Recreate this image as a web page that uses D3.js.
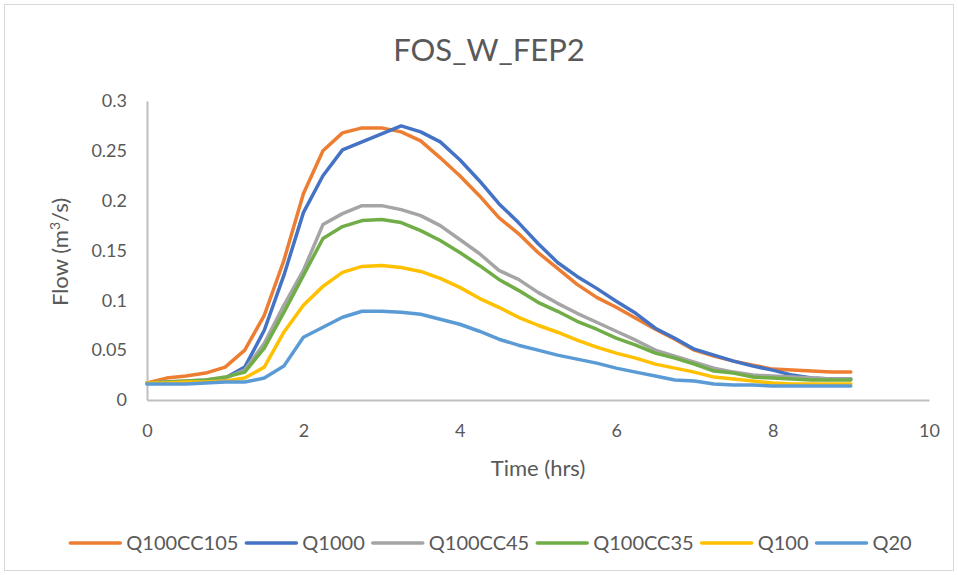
<!DOCTYPE html>
<html>
<head>
<meta charset="utf-8">
<script src="https://cdn.jsdelivr.net/npm/d3@7"></script>
<style>
  body { margin: 0; background: #fff; }
  svg text { font-family: Lato, "Open Sans", sans-serif; fill: #595959; }
</style>
</head>
<body>
<svg id="chart" width="958" height="575"></svg>
<script>
const title = "FOS_W_FEP2";
const xTickValues = [0, 2, 4, 6, 8, 10];
const yTickValues = [0, 0.05, 0.1, 0.15, 0.2, 0.25, 0.3];
const timeHrs = [0,0.25,0.5,0.75,1,1.25,1.5,1.75,2,2.25,2.5,2.75,3,3.25,3.5,3.75,4,4.25,4.5,4.75,5,5.25,5.5,5.75,6,6.25,6.5,6.75,7,7.25,7.5,7.75,8,8.25,8.5,8.75,9];
const seriesNames = ["Q100CC105","Q1000","Q100CC45","Q100CC35","Q100","Q20"];
const seriesColors = ["#ED7D31","#4472C4","#A5A5A5","#70AD47","#FFC000","#5B9BD5"];
const q100cc105 = [0.017,0.022,0.024,0.027,0.033,0.050,0.085,0.140,0.207,0.250,0.268,0.273,0.273,0.269,0.260,0.243,0.225,0.205,0.183,0.167,0.148,0.132,0.116,0.103,0.093,0.082,0.071,0.061,0.050,0.044,0.039,0.035,0.031,0.030,0.029,0.028,0.028];
const q1000 = [0.017,0.017,0.017,0.019,0.022,0.033,0.070,0.125,0.188,0.225,0.251,0.259,0.267,0.275,0.269,0.259,0.241,0.220,0.197,0.178,0.157,0.138,0.124,0.112,0.099,0.087,0.072,0.062,0.051,0.045,0.039,0.034,0.030,0.025,0.022,0.021,0.021];
const q100cc45 = [0.017,0.018,0.019,0.020,0.022,0.030,0.057,0.095,0.130,0.176,0.187,0.195,0.195,0.191,0.185,0.175,0.161,0.147,0.130,0.121,0.108,0.097,0.087,0.078,0.069,0.060,0.050,0.044,0.038,0.032,0.028,0.025,0.024,0.023,0.022,0.021,0.021];
const q100cc35 = [0.017,0.018,0.019,0.020,0.023,0.028,0.052,0.088,0.125,0.162,0.174,0.180,0.181,0.178,0.170,0.160,0.148,0.135,0.121,0.110,0.098,0.089,0.079,0.071,0.062,0.055,0.047,0.042,0.036,0.029,0.027,0.023,0.022,0.021,0.020,0.020,0.020];
const q100 = [0.017,0.017,0.018,0.018,0.019,0.022,0.033,0.068,0.095,0.114,0.128,0.134,0.135,0.133,0.129,0.122,0.113,0.102,0.093,0.083,0.075,0.068,0.060,0.053,0.047,0.042,0.036,0.032,0.028,0.023,0.021,0.019,0.017,0.016,0.016,0.016,0.016];
const q20 = [0.016,0.016,0.016,0.017,0.018,0.018,0.022,0.034,0.063,0.073,0.083,0.089,0.089,0.088,0.086,0.081,0.076,0.069,0.061,0.055,0.050,0.045,0.041,0.037,0.032,0.028,0.024,0.020,0.019,0.016,0.015,0.015,0.014,0.014,0.014,0.014,0.014];
const seriesValues = [q100cc105, q1000, q100cc45, q100cc35, q100, q20];

const svg = d3.select("#chart");
const W = 958, H = 575;
const plot = {left: 147, right: 929, top: 101, bottom: 400};

// outer border
svg.append("rect").attr("x", 4.5).attr("y", 4.5).attr("width", W - 9).attr("height", H - 9)
  .attr("fill", "#fff").attr("stroke", "#d9d9d9").attr("stroke-width", 1);

const x = d3.scaleLinear().domain([0, 10]).range([plot.left, plot.right]);
const y = d3.scaleLinear().domain([0, 0.3]).range([plot.bottom, plot.top]);

// title
svg.append("text").attr("x", 489).attr("y", 61).attr("text-anchor", "middle")
  .style("font-size", "31px").text(title);

// axes
const xAxis = d3.axisBottom(x).tickValues(xTickValues).tickSize(0).tickPadding(24).tickFormat(d3.format("d"));
const gx = svg.append("g").attr("transform", `translate(0,${plot.bottom})`).call(xAxis);
gx.select(".domain").attr("stroke", "#bfbfbf").attr("stroke-width", 2);
gx.selectAll("text").style("font-size", "18px").attr("fill", "#595959");

const yAxis = d3.axisLeft(y).tickValues(yTickValues).tickSize(0).tickPadding(20).tickFormat(d => d === 0 ? "0" : String(+d.toFixed(2)));
const gy = svg.append("g").attr("transform", `translate(${plot.left},0)`).call(yAxis);
gy.select(".domain").attr("stroke", "#bfbfbf").attr("stroke-width", 2);
gy.selectAll("text").style("font-size", "18px").attr("fill", "#595959");

// axis titles
svg.append("text").attr("x", 538).attr("y", 476).attr("text-anchor", "middle")
  .style("font-size", "22px").text("Time (hrs)");
const yt = svg.append("text").attr("transform", "translate(68,252) rotate(-90)").attr("text-anchor", "middle")
  .style("font-size", "22px");
yt.append("tspan").text("Flow (m");
yt.append("tspan").attr("dy", -8).style("font-size", "14px").text("3");
yt.append("tspan").attr("dy", 8).text("/s)");

// lines
const line = d3.line().x((d, i) => x(timeHrs[i])).y(d => y(d));
seriesValues.forEach((vals, k) => {
  svg.append("path").datum(vals).attr("d", line).attr("fill", "none")
    .attr("stroke", seriesColors[k]).attr("stroke-width", 3.5)
    .attr("stroke-linejoin", "round").attr("stroke-linecap", "round");
});

// legend
const legend = svg.append("g");
const lineLen = 50, gap = 6, itemGap = 8;
let cx = 0;
seriesNames.forEach((name, k) => {
  const g = legend.append("g").attr("transform", `translate(${cx},0)`);
  g.append("line").attr("x1", 0).attr("x2", lineLen).attr("y1", 0).attr("y2", 0)
    .attr("stroke", seriesColors[k]).attr("stroke-width", 3.5).attr("stroke-linecap", "round");
  const t = g.append("text").attr("x", lineLen + gap).attr("y", 7).style("font-size", "20px").text(name);
  cx += lineLen + gap + t.node().getComputedTextLength() + itemGap;
});
const totalW = cx - itemGap;
legend.attr("transform", `translate(${491 - totalW / 2},543)`);
</script>
</body>
</html>
